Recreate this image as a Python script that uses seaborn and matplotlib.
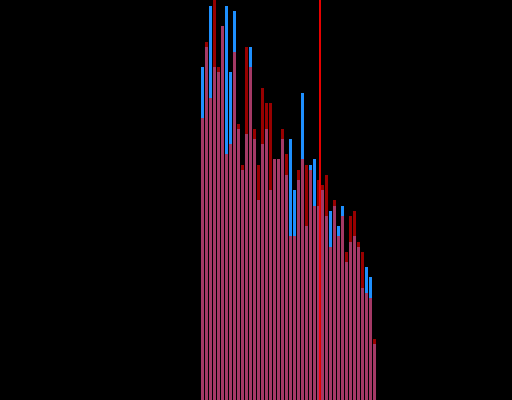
import numpy as np
import pandas as pd
import matplotlib
matplotlib.use('Agg')
import matplotlib.pyplot as plt
import seaborn as sns

# Bar heights (two overlaid series)
bins = list(range(44))
blue_vals = [333, 353, 394, 333, 328, 374, 394, 328, 389, 271, 230, 266, 353, 261, 200, 256,
             271, 210, 241, 241, 261, 225, 261, 210, 220, 307, 174, 235, 241, 194, 210, 184,
             189, 194, 174, 194, 138, 158, 164, 153, 112, 133, 123, 56]
red_vals = [282, 358, 302, 415, 333, 374, 246, 256, 348, 276, 235, 353, 333, 271, 235, 312,
            297, 297, 241, 241, 271, 246, 164, 164, 230, 241, 235, 230, 194, 220, 215, 225,
            153, 200, 164, 184, 148, 184, 189, 158, 148, 107, 102, 61]
marker_x = 29.4

df = pd.DataFrame({'bin': bins, 'blue': blue_vals, 'red': red_vals})

fig = plt.figure(figsize=(5.12, 4.0), dpi=100, facecolor='black')
ax = fig.add_axes([0, 0, 1, 1])
ax.set_facecolor('black')

sns.barplot(data=df, x='bin', y='blue', color='#1e90ff', saturation=1,
            width=0.75, errorbar=None, linewidth=0, ax=ax)
sns.barplot(data=df, x='bin', y='red', color='red', saturation=1, alpha=0.6,
            width=0.75, errorbar=None, linewidth=0, ax=ax)
ax.axvline(marker_x, color='red', linewidth=1.3, zorder=5)

ax.set_xlim(-202.5 / 4, (512 - 202.5) / 4)
ax.set_ylim(0, 400)
ax.axis('off')

fig.savefig('out.png', dpi=100, facecolor='black')
